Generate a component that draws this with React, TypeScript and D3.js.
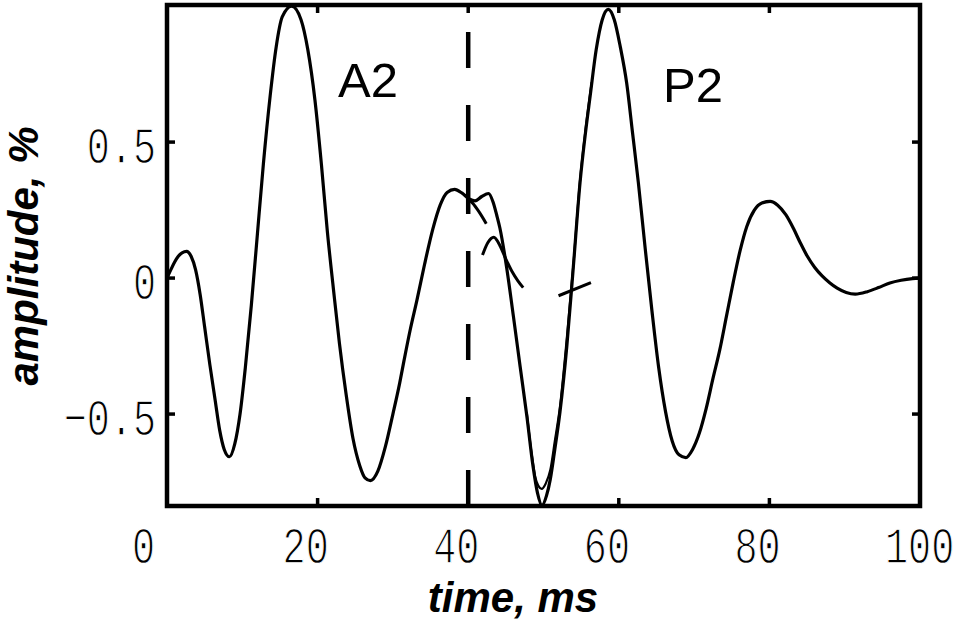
import React from 'react';
import * as d3 from 'd3';

const width = 957;
const height = 628;
const frame = { left: 167, right: 920, top: 5, bottom: 506 };

// axis limits (tight to the data, as in the source figure)
const timeDomain: [number, number] = [0, 100];
const ampDomain: [number, number] = [-0.838, 1.004];

const xTicks = [0, 20, 40, 60, 80, 100];
const yTicks = [-0.5, 0, 0.5];
const yTickLabels = ['\u22120.5', '0', '0.5'];

// boundary between the A2 and P2 components, ms
const splitTime = 40;

// composite heart-sound signal: [time ms, amplitude]
const signal: [number, number][] = [
  [0, 0], [0.5, 0.03], [1.0, 0.058], [1.5, 0.08], [2.0, 0.093], [2.6, 0.098],
  [3.2, 0.08], [3.8, 0.03], [4.4, -0.06], [5.0, -0.18], [5.7, -0.32], [6.4, -0.45],
  [7.0, -0.56], [7.6, -0.63], [8.3, -0.657], [9.0, -0.61], [9.7, -0.5], [10.4, -0.33],
  [11.2, -0.1], [12.0, 0.16], [12.8, 0.42], [13.7, 0.67], [14.5, 0.85], [15.3, 0.96],
  [16.56, 1.0], [17.8, 0.95], [18.7, 0.84], [19.65, 0.654], [20.5, 0.42], [21.3, 0.17],
  [22.1, -0.04], [22.9, -0.24], [23.8, -0.43], [24.7, -0.59], [25.6, -0.69], [26.3, -0.735],
  [27.0, -0.745], [28.0, -0.71], [29.0, -0.62], [30.0, -0.5], [30.9, -0.386], [31.5, -0.3],
  [32.3, -0.19], [33.2, -0.08], [34.2, 0.05], [35.3, 0.18], [36.3, 0.27], [37.2, 0.315],
  [38.2, 0.326], [39.2, 0.312], [40.2, 0.29], [40.9, 0.284], [41.8, 0.3], [42.7, 0.311],
  [43.3, 0.28], [43.8, 0.23], [44.2, 0.185], [45.1, 0.04], [46.0, -0.14], [46.9, -0.326],
  [47.8, -0.51], [48.6, -0.69], [49.2, -0.79], [49.8, -0.836], [50.4, -0.8], [50.9, -0.74],
  [51.5, -0.63], [52.2, -0.49], [53.1, -0.25], [53.96, 0.04], [54.85, 0.35], [55.6, 0.54],
  [56.2, 0.67], [57.0, 0.84], [57.8, 0.95], [58.6, 0.988], [59.4, 0.95], [60.2, 0.85],
  [61.05, 0.716], [61.8, 0.54], [62.6, 0.35], [63.5, 0.11], [64.4, -0.12], [65.3, -0.33],
  [66.2, -0.49], [67.1, -0.6], [68.0, -0.65], [68.9, -0.66], [69.8, -0.63], [70.7, -0.57],
  [71.6, -0.48], [72.5, -0.37], [73.4, -0.265], [74.3, -0.14], [75.2, -0.015], [76.1, 0.1],
  [77.0, 0.19], [78.0, 0.25], [79.0, 0.276], [80.1, 0.282], [81.1, 0.268], [82.2, 0.232],
  [83.2, 0.182], [84.1, 0.13], [85.0, 0.082], [86.0, 0.04], [87.0, 0.008], [88.0, -0.017],
  [89.0, -0.037], [90.2, -0.053], [91.4, -0.059], [93.0, -0.05], [94.5, -0.035],
  [96.0, -0.018], [97.5, -0.008], [99.0, -0.002], [100, 0],
];

// visible pieces of the dashed A2 component
const a2Pieces: [number, number][][] = [
  [[39.8, 0.295], [40.6, 0.275], [41.4, 0.245], [42.4, 0.2]],
  [[41.9, 0.085], [42.6, 0.13], [43.4, 0.15], [44.2, 0.12], [45.0, 0.07], [45.8, 0.025],
    [46.6, -0.01], [47.3, -0.035]],
  [[52.0, -0.065], [56.3, -0.017]],
];

// P2 component near its first trough
const p2Trough: [number, number][] = [
  [47.8, -0.5], [48.4, -0.64], [48.9, -0.73], [49.3, -0.763], [49.76, -0.775],
  [50.3, -0.755], [50.9, -0.706], [51.5, -0.6], [52.2, -0.47], [53.1, -0.22],
  [54.0, 0.06], [54.85, 0.36], [55.6, 0.55], [56.4, 0.72],
];

const App = () => {
  const x = d3.scaleLinear().domain(timeDomain).range([frame.left, frame.right]);
  const y = d3.scaleLinear().domain(ampDomain).range([frame.bottom, frame.top]);

  const path = d3
    .line<[number, number]>()
    .x(d => x(d[0]))
    .y(d => y(d[1]))
    .curve(d3.curveMonotoneX);

  const tickLen = 8;
  const monoFont = "'Liberation Mono', 'DejaVu Sans Mono', monospace";
  // thin the mono glyphs a little with a white outline drawn over the fill
  const thin = { fill: '#000', stroke: '#fff', strokeWidth: 1.3 };

  return (
    <svg
      width={width}
      height={height}
      style={{ position: 'absolute', left: 0, top: 0, background: '#fff' }}
    >
      <rect width={width} height={height} fill="#fff" />

      <path d={path(signal) ?? ''} fill="none" stroke="#000" strokeWidth={3.2} />
      <path d={path(p2Trough) ?? ''} fill="none" stroke="#000" strokeWidth={2.2} />
      {a2Pieces.map((piece, i) => (
        <path key={i} d={path(piece) ?? ''} fill="none" stroke="#000" strokeWidth={3} />
      ))}

      <line
        x1={x(splitTime)}
        x2={x(splitTime)}
        y1={y(ampDomain[0])}
        y2={y(ampDomain[1])}
        stroke="#000"
        strokeWidth={4.5}
        strokeDasharray="36 37"
      />

      {/* ticks on all four sides */}
      {xTicks.slice(1, -1).map(t => (
        <g key={'xt' + t} stroke="#000" strokeWidth={3.5}>
          <line x1={x(t)} x2={x(t)} y1={frame.bottom} y2={frame.bottom - tickLen} />
          <line x1={x(t)} x2={x(t)} y1={frame.top} y2={frame.top + tickLen} />
        </g>
      ))}
      {yTicks.map(v => (
        <g key={'yt' + v} stroke="#000" strokeWidth={3.5}>
          <line x1={frame.left} x2={frame.left + tickLen} y1={y(v)} y2={y(v)} />
          <line x1={frame.right} x2={frame.right - tickLen} y1={y(v)} y2={y(v)} />
        </g>
      ))}

      <rect
        x={frame.left}
        y={frame.top}
        width={frame.right - frame.left}
        height={frame.bottom - frame.top}
        fill="none"
        stroke="#000"
        strokeWidth={4.5}
      />

      {xTicks.map(t => (
        <g key={'xl' + t} transform={`translate(${x(t) - 35},563) scale(0.74,1)`}>
          <text fontFamily={monoFont} fontSize={52} {...thin}>
            {t}
          </text>
        </g>
      ))}
      {yTicks.map((v, i) => (
        <g key={'yl' + v} transform={`translate(156,${y(v) + 21}) scale(0.74,1)`}>
          <text fontFamily={monoFont} fontSize={52} textAnchor="end" {...thin}>
            {yTickLabels[i]}
          </text>
        </g>
      ))}

      <text
        x={513}
        y={612}
        textAnchor="middle"
        fontFamily="'Liberation Sans', Arial, sans-serif"
        fontWeight="bold"
        fontStyle="italic"
        fontSize={42}
      >
        time, ms
      </text>
      <text
        transform="translate(38,256) rotate(-90)"
        textAnchor="middle"
        fontFamily="'Liberation Sans', Arial, sans-serif"
        fontWeight="bold"
        fontStyle="italic"
        fontSize={42}
      >
        amplitude, %
      </text>

      <text x={338} y={97} fontFamily="'Liberation Sans', Arial, sans-serif" fontSize={49}>
        A2
      </text>
      <text x={663} y={102} fontFamily="'Liberation Sans', Arial, sans-serif" fontSize={49}>
        P2
      </text>
    </svg>
  );
};

export default App;
